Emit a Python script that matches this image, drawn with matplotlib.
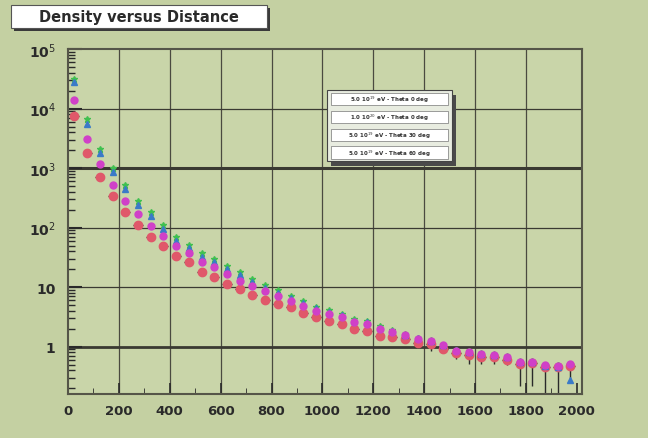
import numpy as np
import matplotlib.pyplot as plt
from matplotlib.patches import Rectangle
from matplotlib.ticker import FixedLocator, LogLocator, NullFormatter

# distance bins (centre of each 50 m bin)
distance = list(range(25, 2000, 50))

# densities
dens_green = [32000, 6800, 2100, 1000, 525, 282, 186, 112, 71, 52,
              38, 30, 23, 18, 13.8, 11.0, 8.9, 7.2, 5.9, 4.7,
              4.1, 3.5, 2.9, 2.7, 2.2, 1.9, 1.62, 1.41, 1.29, 1.07,
              0.89, 0.85, 0.78, 0.76, 0.69, 0.58, 0.58, 0.50, 0.49, 0.52]
dens_blue = [28000, 5600, 1800, 870, 450, 240, 158, 95, 60, 45,
             32, 26, 20, 15.8, 12.0, 9.8, 8.1, 6.6, 5.4, 4.4,
             3.8, 3.4, 2.75, 2.57, 2.09, 1.86, 1.58, 1.38, 1.26, 1.05,
             0.87, 0.83, 0.76, 0.74, 0.68, 0.56, 0.55, 0.48, 0.46, 0.28]
dens_magenta = [13800, 3100, 1170, 525, 282, 170, 107, 72, 49, 37,
                27, 22, 16.6, 12.9, 10.5, 8.7, 7.2, 5.9, 4.9, 4.0,
                3.5, 3.2, 2.6, 2.45, 2.0, 1.78, 1.55, 1.35, 1.26, 1.05,
                0.85, 0.83, 0.76, 0.74, 0.68, 0.56, 0.56, 0.49, 0.48, 0.51]
dens_red = [7600, 1780, 710, 340, 182, 112, 71, 49, 34, 26,
            18.2, 14.8, 11.5, 9.3, 7.4, 6.2, 5.2, 4.7, 3.7, 3.2,
            2.75, 2.45, 2.0, 1.86, 1.51, 1.48, 1.35, 1.17, 1.10, 0.91,
            0.78, 0.74, 0.68, 0.66, 0.60, 0.52, 0.54, 0.46, 0.45, 0.47]
# error bars on red points
red_err_low = [0, 0, 0, 0, 0, 0, 0, 0, 0, 0,
               0, 0, 0, 0, 0, 0, 0, 0, 0, 0,
               0, 0, 0.1, 0.1, 0.1, 0.15, 0.2, 0.2, 0.25, 0.1,
               0.15, 0.22, 0.16, 0.14, 0.1, 0.3, 0.32, 0.35, 0.35, 0.21]
red_err_high = [0, 0, 0, 0, 0, 0, 0, 0, 0, 0,
                0, 0, 0, 0, 0, 0, 0, 0, 0, 0,
                0, 0, 0.1, 0.1, 0.1, 0.1, 0.1, 0.1, 0.1, 0.05,
                0.05, 0.05, 0.05, 0.05, 0.05, 0.05, 0.05, 0.05, 0.05, 0.05]

legend_labels = ['5.0 10$^{19}$ eV - Theta 0 deg',
                 '1.0 10$^{20}$ eV - Theta 0 deg',
                 '5.0 10$^{19}$ eV - Theta 30 deg',
                 '5.0 10$^{19}$ eV - Theta 60 deg']

bg = '#c4d0a2'
fig = plt.figure(figsize=(6.48, 4.39), dpi=100, facecolor=bg)
ax = fig.add_axes([0.105, 0.100, 0.793, 0.786], facecolor='#c9d5a9')

ax.set_yscale('log')
ax.set_xlim(0, 2020)
ax.set_ylim(0.16, 1e5)

# grid
for xv in range(200, 2000, 200):
    ax.axvline(xv, color='#4a4a40', lw=0.9, zorder=1)
for yv, lw in [(1e4, 0.9), (1e3, 2.2), (1e2, 0.9), (10, 0.9), (1, 2.0)]:
    ax.axhline(yv, color='#3a3a32', lw=lw, zorder=1)

ax.errorbar(distance, dens_red, yerr=[red_err_low, red_err_high], xerr=18,
            fmt='none', ecolor='#2a2a2a', elinewidth=1.0, zorder=2)
ax.plot(distance, dens_red, 'o', color='#e0586a', ms=6, mec='#e0586a', zorder=3)
ax.plot(distance, dens_magenta, 'o', color='#d040c8', ms=5, zorder=4)
ax.plot(distance, dens_blue, '^', color='#3a7ac8', ms=4, zorder=3.5)
ax.plot(distance, dens_green, '*', color='#40c050', ms=4.5, zorder=3.2)

# ticks
ax.yaxis.set_major_locator(FixedLocator([1, 10, 100, 1e3, 1e4, 1e5]))
ax.set_yticklabels(['1', '10', '10$^2$', '10$^3$', '10$^4$', '10$^5$'])
ax.yaxis.set_minor_locator(LogLocator(base=10, subs=np.arange(2, 10)))
ax.yaxis.set_minor_formatter(NullFormatter())
ax.set_xticks(range(0, 2001, 200))
ax.set_xticks(range(0, 2001, 100), minor=True)
ax.tick_params(axis='both', which='both', direction='in', color='#2a2a2a')
ax.tick_params(axis='y', which='major', length=10, width=1.5, labelsize=10, pad=9)
ax.tick_params(axis='y', which='minor', length=5, width=1.0)
ax.tick_params(axis='x', which='major', length=8, width=1.2, labelsize=9.5, pad=7)
ax.tick_params(axis='x', which='minor', length=4)
for lbl in ax.get_xticklabels() + ax.get_yticklabels():
    lbl.set_fontweight('bold')
    lbl.set_color('#2a2a2a')
for sp in ax.spines.values():
    sp.set_color('#555548')
    sp.set_linewidth(1.5)

# title box
fig.patches.append(Rectangle((0.022, 0.927), 0.395, 0.052, transform=fig.transFigure,
                             facecolor='#3a3a3a', edgecolor='none', zorder=5))
fig.patches.append(Rectangle((0.017, 0.935), 0.395, 0.052, transform=fig.transFigure,
                             facecolor='white', edgecolor='#555555', lw=0.8, zorder=6))
fig.text(0.214, 0.961, 'Density versus Distance', ha='center', va='center',
         fontsize=10.5, fontweight='bold', color='#2a2a2a', zorder=7)

# legend box
lx0, ly0, lw_, lh_ = 0.505, 0.630, 0.193, 0.162
fig.patches.append(Rectangle((lx0 + 0.006, ly0 - 0.010), lw_, lh_, transform=fig.transFigure,
                             facecolor='#4a4a4a', edgecolor='none', zorder=5))
fig.patches.append(Rectangle((lx0, ly0), lw_, lh_, transform=fig.transFigure,
                             facecolor='#e8ece0', edgecolor='#444444', lw=0.8, zorder=6))
row_h = lh_ / 4
for i, lab in enumerate(legend_labels):
    y0 = ly0 + lh_ - (i + 1) * row_h
    fig.patches.append(Rectangle((lx0 + 0.006, y0 + 0.006), lw_ - 0.012, row_h - 0.012,
                                 transform=fig.transFigure, facecolor='white',
                                 edgecolor='#777777', lw=0.5, zorder=7))
    fig.text(lx0 + lw_ / 2, y0 + row_h / 2, lab, ha='center', va='center',
             fontsize=4, fontweight='bold', color='#333333', zorder=8)

fig.savefig('out.png', dpi=100, facecolor=bg)
